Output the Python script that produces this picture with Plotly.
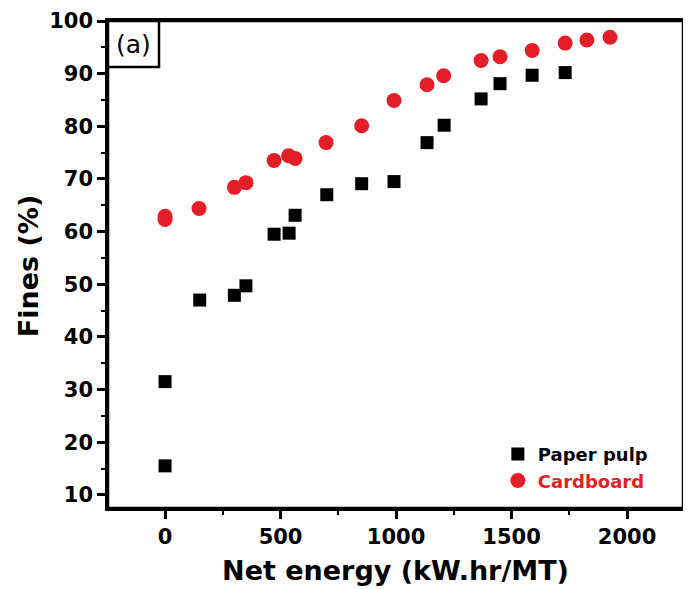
import plotly.graph_objects as go

# Paper pulp (black squares)
pulp_energy = [0, 0, 150, 300, 350, 472, 537, 563, 700, 851, 991, 1134, 1208, 1368, 1450, 1589, 1732]
pulp_fines = [15.5, 31.5, 47.0, 47.9, 49.7, 59.5, 59.7, 63.1, 67.0, 69.1, 69.5, 76.9, 80.2, 85.2, 88.1, 89.7, 90.2]

# Cardboard (red circles)
card_energy = [0, 0, 147, 300, 350, 472, 535, 563, 697, 851, 991, 1134, 1206, 1368, 1450, 1589, 1732, 1826, 1926]
card_fines = [62.9, 62.3, 64.4, 68.4, 69.3, 73.5, 74.4, 73.9, 76.9, 80.1, 84.9, 87.9, 89.6, 92.5, 93.2, 94.4, 95.8, 96.4, 96.9]

x_ticks = [0, 500, 1000, 1500, 2000]
y_ticks = [10, 20, 30, 40, 50, 60, 70, 80, 90, 100]

RED = "#E41E26"
FONT = "DejaVu Sans"

fig = go.Figure()
fig.add_trace(go.Scatter(
    x=pulp_energy, y=pulp_fines, mode="markers", name="Paper pulp",
    marker=dict(symbol="square", size=13, color="black"),
))
fig.add_trace(go.Scatter(
    x=card_energy, y=card_fines, mode="markers",
    name=f"<span style='color:{RED}'>Cardboard</span>",
    marker=dict(symbol="circle", size=15, color=RED),
))

axis_common = dict(
    showline=True, linewidth=2.5, linecolor="black", mirror=True,
    ticks="outside", ticklen=8, tickwidth=2.5, tickcolor="black",
    showgrid=False, zeroline=False, automargin=False,
    tickfont=dict(family=FONT, size=21, color="black", weight="bold"),
)

fig.update_xaxes(
    range=[-247, 2242], tickvals=x_ticks, ticktext=[f"<b>{v}</b>" for v in x_ticks],
    minor=dict(ticks="outside", ticklen=4, tickwidth=2, tickcolor="black", dtick=250, tick0=0),
    title=dict(text="<b>Net energy (kW.hr/MT)</b>", font=dict(family=FONT, size=27, color="black", weight="bold"), standoff=14),
    **axis_common,
)
fig.update_yaxes(
    range=[7.5, 100], tickvals=y_ticks, ticktext=[f"<b>{v}</b>" for v in y_ticks],
    minor=dict(ticks="outside", ticklen=4, tickwidth=2, tickcolor="black", dtick=5, tick0=0),
    **axis_common,
)

# y-axis title as rotated annotation for exact placement
fig.add_annotation(text="<b>Fines (%)</b>", xref="paper", yref="paper", x=-0.137, y=0.497,
                   xanchor="center", yanchor="middle", textangle=-90, showarrow=False,
                   font=dict(family=FONT, size=27, color="black", weight="bold"))

# plot frame
fig.add_shape(type="rect", xref="paper", yref="paper", x0=0, x1=1, y0=0, y1=1,
              line=dict(color="black", width=2.5), layer="above")
# panel label box
fig.add_shape(type="rect", xref="paper", yref="paper", x0=0, x1=0.0887, y0=0.9055, y1=1,
              line=dict(color="black", width=2.5), fillcolor="white", layer="above")
fig.add_annotation(text="(a)", xref="paper", yref="paper", x=0.0443, y=0.9527,
                   xanchor="center", yanchor="middle",
                   showarrow=False, font=dict(family=FONT, size=25, color="black"))

fig.update_layout(
    width=683, height=581,
    margin=dict(l=100, r=8, t=13, b=81),
    paper_bgcolor="white", plot_bgcolor="white",
    showlegend=True,
    legend=dict(x=0.678, y=0.148, xanchor="left", yanchor="top",
                bgcolor="rgba(0,0,0,0)", font=dict(family=FONT, size=18, color="black", weight="bold"),
                itemsizing="trace", tracegroupgap=0, itemwidth=30),
)

fig.write_html("out.html")
